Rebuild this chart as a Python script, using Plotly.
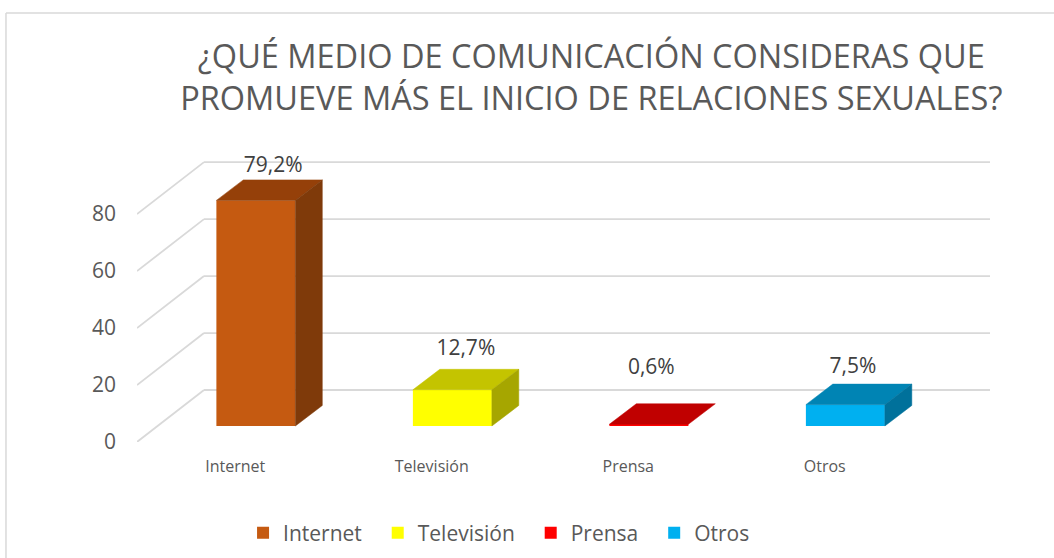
import plotly.graph_objects as go

# ---- data ----
categories = ["Internet", "Televisión", "Prensa", "Otros"]
values = [79.2, 12.7, 0.6, 7.5]
value_labels = ["79,2%", "12,7%", "0,6%", "7,5%"]
y_ticks = [0, 20, 40, 60, 80]
title_lines = ["¿QUÉ MEDIO DE COMUNICACIÓN CONSIDERAS QUE",
               "PROMUEVE MÁS EL INICIO DE RELACIONES SEXUALES?"]

# ---- style ----
front_colors = ["#C55A11", "#FFFF00", "#FF0000", "#00B0F0"]
top_colors = ["#954009", "#C4C400", "#C00000", "#0084B4"]
side_colors = ["#7F3A0A", "#A6A600", "#A00000", "#00719B"]
GRID = "#D9D9D9"
TEXT = "#595959"
FONT = "Open Sans"

# projection of the chart's depth axis, in axis units
FLOOR_DX, FLOOR_DY = 0.341, 18.25     # whole floor depth
BAR_START = 0.308                     # where bars start along the depth
BAR_DX, BAR_DY = 0.137, 7.2           # depth of one bar
BAR_W = 0.402
label_dx = [0.02, 0.0, -0.056, -0.03]
label_dy = [4.6, 6.8, 12.3, 5.6]

X_MIN, X_MAX = -0.5, 3.5 + FLOOR_DX
base = BAR_START * FLOOR_DY
shift = BAR_START * FLOOR_DX

fig = go.Figure()

# front faces
for i, c in enumerate(categories):
    fig.add_trace(go.Bar(
        x=[i + shift], y=[values[i]], base=[base], width=[BAR_W],
        name=c + "\u00a0\u00a0",
        marker=dict(color=front_colors[i], line=dict(width=0)),
        hovertemplate=f"{c}: {value_labels[i]}<extra></extra>",
    ))

# top and side faces, projected from each value
for i, c in enumerate(categories):
    xl = i + shift - BAR_W / 2
    xr = i + shift + BAR_W / 2
    ytop = base + values[i]
    fig.add_trace(go.Scatter(
        x=[xl, xr, xr + BAR_DX, xl + BAR_DX, xl],
        y=[ytop, ytop, ytop + BAR_DY, ytop + BAR_DY, ytop],
        mode="lines", fill="toself", fillcolor=top_colors[i],
        line=dict(width=0.5, color=top_colors[i]),
        showlegend=False, hoverinfo="skip"))
    if values[i] > 1:
        fig.add_trace(go.Scatter(
            x=[xr, xr + BAR_DX, xr + BAR_DX, xr, xr],
            y=[base, base + BAR_DY, ytop + BAR_DY, ytop, base],
            mode="lines", fill="toself", fillcolor=side_colors[i],
            line=dict(width=0.5, color=side_colors[i]),
            showlegend=False, hoverinfo="skip"))

# data labels
fig.add_trace(go.Scatter(
    x=[i + shift + BAR_DX / 2 + label_dx[i] for i in range(4)],
    y=[base + values[i] + BAR_DY + label_dy[i] for i in range(4)],
    mode="text", text=value_labels, cliponaxis=False,
    textposition="middle center",
    textfont=dict(family=FONT, size=21, color="#404040"),
    showlegend=False, hoverinfo="skip"))

# gridlines: back wall and side wall
shapes = []
for t in y_ticks:
    line = dict(color=GRID, width=1.8)
    shapes.append(dict(type="line", xref="x", yref="y", layer="below", line=line,
                       x0=X_MIN + FLOOR_DX, x1=X_MAX, y0=t + FLOOR_DY, y1=t + FLOOR_DY))
    shapes.append(dict(type="line", xref="x", yref="y", layer="below", line=line,
                       x0=X_MIN, x1=X_MIN + FLOOR_DX, y0=t, y1=t + FLOOR_DY))

# chart frame
frame = dict(color="#D9D9D9", width=1.5)
shapes.append(dict(type="line", xref="paper", yref="paper", line=frame,
                   x0=-0.1536, x1=1.1, y0=1.521, y1=1.521))
shapes.append(dict(type="line", xref="paper", yref="paper", line=frame,
                   x0=-0.1536, x1=-0.1536, y0=1.521, y1=-0.5))

fig.update_layout(
    width=1054, height=558,
    margin=dict(l=137, r=64, t=160, b=116, pad=0),
    paper_bgcolor="white", plot_bgcolor="rgba(0,0,0,0)",
    barmode="overlay", shapes=shapes,
    font=dict(family=FONT, color=TEXT),
    title=dict(text="<br>".join(title_lines), x=0.561, xanchor="center",
               y=0.878, yanchor="middle",
               font=dict(family=FONT, size=32.5, color=TEXT)),
    xaxis=dict(range=[X_MIN, X_MAX], tickmode="array", tickvals=list(range(4)),
               ticktext=categories, showgrid=False, zeroline=False, showline=False,
               ticks="", ticklabelstandoff=13, tickfont=dict(family=FONT, size=16, color=TEXT)),
    yaxis=dict(range=[0, 99], tickmode="array", tickvals=y_ticks,
               showgrid=False, zeroline=False, showline=False, ticks="",
               ticklabelstandoff=20, tickfont=dict(family=FONT, size=21, color=TEXT)),
    legend=dict(orientation="h", xref="container", yref="container",
                x=0.2306, xanchor="left", y=0.0448, yanchor="middle",
                font=dict(family=FONT, size=21, color=TEXT), itemclick=False,
                itemdoubleclick=False, traceorder="normal", bgcolor="rgba(0,0,0,0)"),
)

fig.write_html("out.html", config={"displayModeBar": False},
               post_script="document.body.style.margin='0';document.body.style.overflow='hidden';")
